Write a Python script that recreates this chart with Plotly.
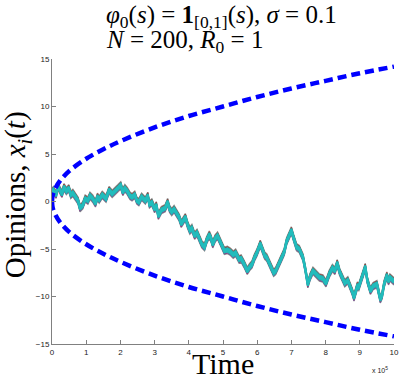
import plotly.graph_objects as go

# ---- data ----
bound_t = [0, 0.02, 0.1, 0.25, 0.5, 1, 1.5, 2, 3, 4, 5, 6, 7, 8, 9, 10]
bound_upper = [0, 0.65, 1.4, 2.25, 3.2, 4.5, 5.5, 6.35, 7.8, 9.0, 10.0, 11.0, 11.9, 12.7, 13.5, 14.2]
bound_lower = [-v for v in bound_upper]

path_t = [0.00, 0.04, 0.12, 0.17, 0.23, 0.29, 0.35, 0.42, 0.49, 0.55, 0.61, 0.68, 0.76, 0.82,
          0.90, 0.97, 1.05, 1.11, 1.19, 1.27, 1.33, 1.38, 1.47, 1.58, 1.63, 1.67, 1.76, 1.86,
          1.93, 2.01, 2.07, 2.13, 2.20, 2.28, 2.34, 2.42, 2.48, 2.54, 2.62, 2.73, 2.80, 2.85,
          2.92, 3.00, 3.05, 3.11, 3.20, 3.31, 3.38, 3.44, 3.50, 3.57, 3.64, 3.72, 3.78, 3.85,
          3.90, 3.96, 4.03, 4.09, 4.17, 4.24, 4.31, 4.38, 4.46, 4.52, 4.60, 4.65, 4.70, 4.77,
          4.84, 4.91, 4.99, 5.04, 5.13, 5.22, 5.30, 5.37, 5.47, 5.53, 5.62, 5.71, 5.78, 5.85,
          5.92, 5.99, 6.09, 6.17, 6.22, 6.28, 6.37, 6.48, 6.54, 6.63, 6.71, 6.79, 6.86, 6.93,
          7.00, 7.07, 7.15, 7.23, 7.34, 7.41, 7.48, 7.55, 7.63, 7.71, 7.82, 7.92, 8.01, 8.11,
          8.20, 8.27, 8.34, 8.41, 8.49, 8.56, 8.65, 8.73, 8.78, 8.83, 8.93, 8.97, 9.05, 9.11,
          9.16, 9.22, 9.31, 9.39, 9.50, 9.55, 9.60, 9.65, 9.71, 9.79, 9.84, 9.88, 9.98, 10.0]
path_x = [1.0, 1.2, 0.7, 1.6, 1.2, 0.8, 1.5, 1.1, 1.4, 0.7, 0.9, 0.5, 0.1, -0.7,
          -0.4, 0.3, 0.1, 0.6, 0.3, -0.2, 0.5, 0.2, 0.7, 0.3, 0.9, 1.2, 0.8, 1.1,
          1.4, 1.7, 1.0, 1.4, 1.1, 0.6, 0.45, 0.7, 0.1, -0.07, 0.5, 0.1, 0.6, -0.3,
          -0.1, -0.8, -0.4, -1.5, -0.9, -0.7, -0.07, -0.8, -1.1, -0.8, -1.3, -1.7, -2.35, -1.9,
          -1.65, -2.4, -3.05, -2.8, -3.6, -3.3, -4.0, -4.5, -4.8, -4.1, -3.5, -3.9, -4.5, -3.9,
          -3.6, -4.2, -4.8, -5.2, -5.1, -5.3, -5.6, -5.4, -6.1, -6.0, -6.6, -7.3, -6.9, -6.6,
          -5.9, -5.4, -4.45, -5.1, -5.7, -5.9, -6.6, -7.5, -7.3, -6.6, -5.8, -5.3, -4.2, -3.6,
          -3.05, -3.9, -4.8, -5.0, -5.9, -7.2, -8.7, -7.9, -7.3, -7.6, -8.0, -8.1, -8.6, -7.6,
          -7.0, -7.3, -6.5, -7.4, -8.1, -8.6, -8.3, -9.0, -9.5, -10.1, -8.85, -9.0, -8.0, -7.5,
          -6.9, -8.3, -9.4, -8.9, -8.7, -9.5, -10.3, -9.9, -8.7, -7.8, -8.4, -8.0, -8.3, -8.4]

x_ticks = [0, 1, 2, 3, 4, 5, 6, 7, 8, 9, 10]
y_ticks = [-15, -10, -5, 0, 5, 10, 15]

# agents in the bundle: (offset from the common path, colour, width)
agents = [
    (0.38, "#8a8a8a", 1.4), (-0.38, "#8a8a8a", 1.4),
    (0.32, "#c0392b", 1.0), (-0.32, "#6a3fb0", 1.0),
    (0.28, "#5a5a5a", 0.9), (-0.28, "#b03060", 0.9),
    (0.18, "#1fb5b5", 2.0), (-0.18, "#1fb5b5", 2.0),
    (0.07, "#22bcbc", 2.0), (-0.07, "#22bcbc", 2.0),
]

fig = go.Figure()
for off, col, w in agents:
    fig.add_trace(go.Scatter(x=path_t, y=[v + off for v in path_x], mode="lines",
                             line=dict(color=col, width=w), showlegend=False,
                             hoverinfo="skip"))

dash = "9px,5px"
fig.add_trace(go.Scatter(x=bound_t, y=bound_upper, mode="lines", line_shape="spline",
                         line=dict(color="#0000ff", width=4.5, dash=dash), showlegend=False))
fig.add_trace(go.Scatter(x=bound_t, y=bound_lower, mode="lines", line_shape="spline",
                         line=dict(color="#0000ff", width=4.5, dash=dash), showlegend=False))

tick_font = dict(family="Liberation Sans, Arial, sans-serif", size=8, color="#222")
fig.update_layout(
    width=407, height=381,
    margin=dict(l=52, r=8, t=59, b=37),
    paper_bgcolor="white", plot_bgcolor="white",
    xaxis=dict(range=[0, 10], tickvals=x_ticks, ticktext=[str(v) for v in x_ticks],
               ticks="inside", ticklen=4, tickcolor="#808080", showline=True,
               linecolor="#808080", linewidth=1, showgrid=False, zeroline=False,
               tickfont=tick_font, mirror=False),
    yaxis=dict(range=[-15, 15], tickvals=y_ticks, ticktext=[str(v).replace("-", "\u2212") for v in y_ticks],
               ticks="inside", ticklen=4, tickcolor="#808080", showline=True,
               linecolor="#808080", linewidth=1, showgrid=False, zeroline=False,
               tickfont=tick_font, mirror=False),
)

serif = "Liberation Serif, DejaVu Serif, serif"
fig.add_annotation(
    text="<i>φ</i><sub>0</sub>(<i>s</i>) = <b>1</b><sub>[0,1]</sub>(<i>s</i>), <i>σ</i> = 0.1",
    xref="paper", yref="paper", x=0.153, y=1.15, xanchor="left", yanchor="middle",
    align="left", showarrow=False, font=dict(family=serif, size=25, color="black"))
fig.add_annotation(
    text="<i>N</i> = 200, <i>R</i><sub>0</sub> = 1",
    xref="paper", yref="paper", x=0.153, y=1.06, xanchor="left", yanchor="middle",
    align="left", showarrow=False, font=dict(family=serif, size=25, color="black"))
fig.add_annotation(
    text="Opinions, <i>x<sub>i</sub></i>(<i>t</i>)",
    xref="paper", yref="paper", x=-0.1, y=0.525, xanchor="center", yanchor="middle",
    textangle=-90, showarrow=False, font=dict(family=serif, size=29, color="black"))
fig.add_annotation(
    text="Time", xref="paper", yref="paper", x=0.5, y=-0.135, xanchor="center",
    yanchor="bottom", showarrow=False, font=dict(family=serif, size=30, color="black"))
fig.add_annotation(
    text="x 10<sup>5</sup>", xref="paper", yref="paper", x=0.96, y=-0.09,
    xanchor="center", yanchor="middle", showarrow=False,
    font=dict(family="Liberation Sans, Arial, sans-serif", size=7, color="#222"))

fig.write_html("out.html", config={"displayModeBar": False},
               post_script="document.body.style.margin='0';document.body.style.overflow='hidden';")
